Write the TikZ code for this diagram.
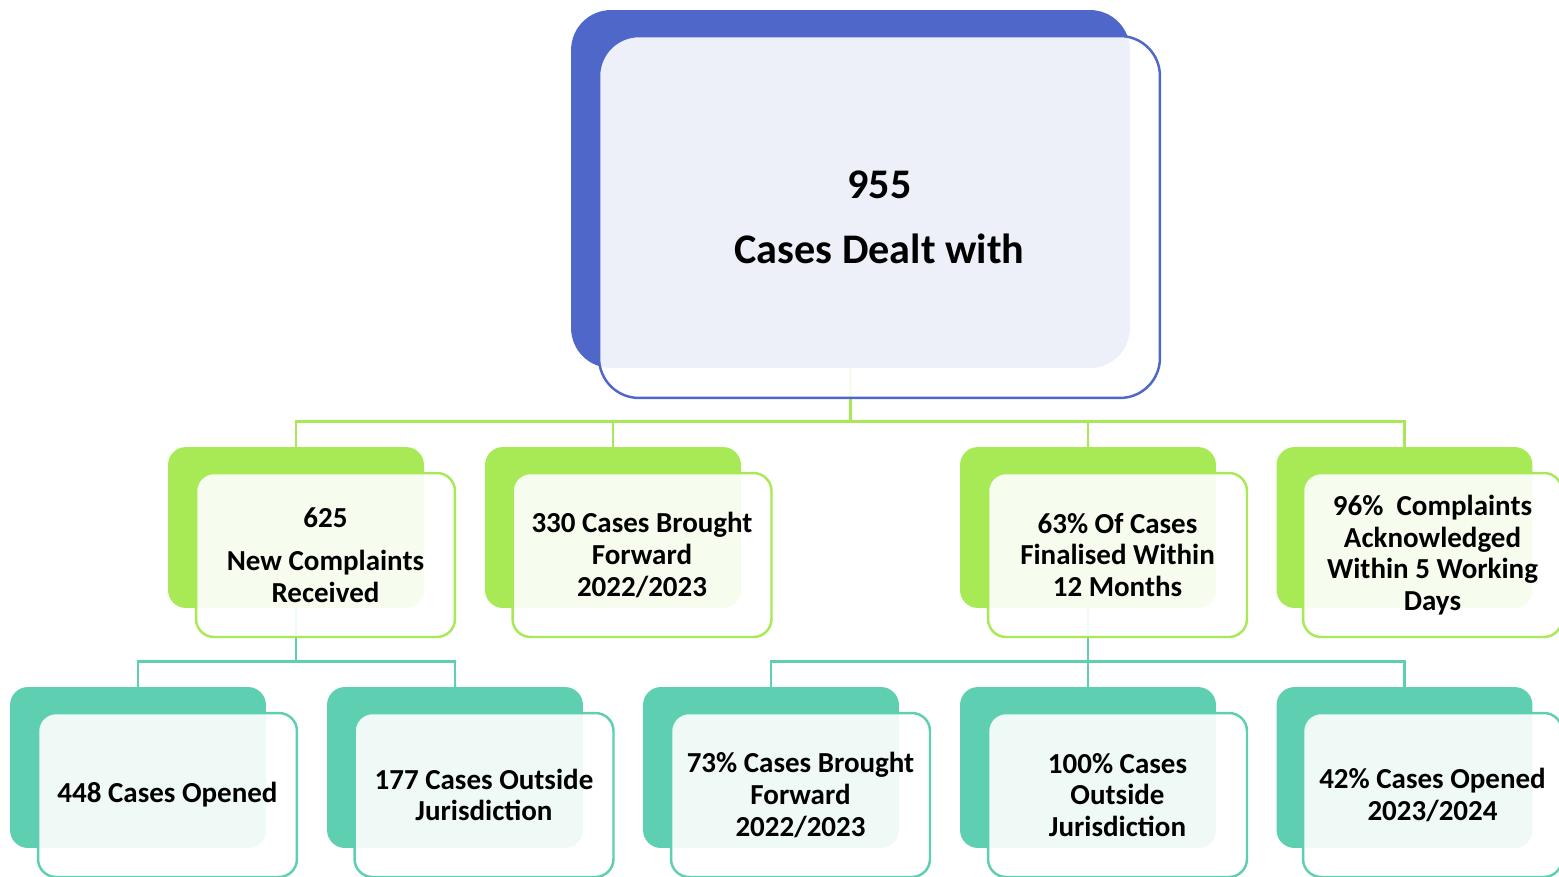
\documentclass[tikz,border=0pt]{standalone}
\usepackage{fontspec}
\setmainfont{Carlito}
\usetikzlibrary{calc,backgrounds}
\definecolor{rootblue}{HTML}{4F67C9}
\definecolor{kidgreen}{HTML}{A8EA55}
\definecolor{leafteal}{HTML}{5ECFB1}
\newcommand{\boxfont}{\fontsize{16.5}{18}\selectfont\bfseries}
\newcommand{\rootfont}{\fontsize{24}{29}\selectfont\bfseries}

\begin{document}
\begin{tikzpicture}[x=0.02cm,y=-0.02cm]
       \tikzstyle{back} = [rectangle, rounded corners=0.36cm, minimum width=5.12cm, minimum height=3.22cm, inner sep=0pt];
       \tikzstyle{front} = [rectangle, rounded corners=0.36cm, line width=1.4pt, fill=white, fill opacity=0.9, text opacity=1, minimum width=5.18cm, minimum height=3.28cm, inner sep=0pt, align=center, font=\boxfont];
       \tikzstyle{glink} = [draw=kidgreen, line width=1.5pt];
       \tikzstyle{tlink} = [draw=leafteal, line width=1.5pt];

       \useasboundingbox (0,0) rectangle (1559,876);

       % root
       \node[back, fill=rootblue, rounded corners=0.8cm, minimum width=11.18cm, minimum height=7.16cm] (rootb) at (850.5,189) {};
       \node[front, draw=rootblue, rounded corners=0.8cm, minimum width=11.22cm, minimum height=7.24cm, font=\rootfont] (rootf) at ($(rootb)+(29,28)$) {955\\[8pt]Cases Dealt with};

       % second row
       \node[back, fill=kidgreen] (gb1) at (296,527.5) {};
       \node[front, draw=kidgreen] (gf1) at ($(gb1)+(29.5,27.5)$) {625\\[7pt]New Complaints\\Received};
       \node[back, fill=kidgreen] (gb2) at (613,527.5) {};
       \node[front, draw=kidgreen] (gf2) at ($(gb2)+(29,27.5)$) {330 Cases Brought\\Forward\\2022/2023};
       \node[back, fill=kidgreen] (gb3) at (1088,527.5) {};
       \node[front, draw=kidgreen] (gf3) at ($(gb3)+(29.5,27.5)$) {63\% Of Cases\\Finalised Within\\12 Months};
       \node[back, fill=kidgreen] (gb4) at (1404.5,527.5) {};
       \node[front, draw=kidgreen] (gf4) at ($(gb4)+(28,27.5)$) {96\%\ \ Complaints\\Acknowledged\\Within 5 Working\\Days};

       % third row
       \node[back, fill=leafteal] (tb1) at (138,767.5) {};
       \node[front, draw=leafteal] (tf1) at ($(tb1)+(29.5,27.5)$) {448 Cases Opened};
       \node[back, fill=leafteal] (tb2) at (455,767.5) {};
       \node[front, draw=leafteal] (tf2) at ($(tb2)+(29,27.5)$) {177 Cases Outside\\Jurisdiction};
       \node[back, fill=leafteal] (tb3) at (771,767.5) {};
       \node[front, draw=leafteal] (tf3) at ($(tb3)+(29.5,27.5)$) {73\% Cases Brought\\Forward\\2022/2023};
       \node[back, fill=leafteal] (tb4) at (1088,767.5) {};
       \node[front, draw=leafteal] (tf4) at ($(tb4)+(29.5,27.5)$) {100\% Cases\\Outside\\Jurisdiction};
       \node[back, fill=leafteal] (tb5) at (1404.5,767.5) {};
       \node[front, draw=leafteal] (tf5) at ($(tb5)+(28,27.5)$) {42\% Cases Opened\\2023/2024};

       % connectors behind the boxes
       \begin{scope}[on background layer]
         \coordinate (rootbus) at ($(rootb.south)+(0,53)$);
         \draw[glink] (rootb.south) -- (rootbus) -| (gb1.north);
         \draw[glink] (rootbus) -| (gb2.north);
         \draw[glink] (rootbus) -| (gb3.north);
         \draw[glink] (rootbus) -| (gb4.north);

         \coordinate (gbus1) at ($(gb1.south)+(0,53)$);
         \draw[tlink] (gb1.south) -- (gbus1) -| (tb1.north);
         \draw[tlink] (gbus1) -| (tb2.north);

         \coordinate (gbus3) at ($(gb3.south)+(0,53)$);
         \draw[tlink] (gb3.south) -- (gbus3) -| (tb3.north);
         \draw[tlink] (gbus3) -| (tb4.north);
         \draw[tlink] (gbus3) -| (tb5.north);
       \end{scope}
\end{tikzpicture}
\end{document}
